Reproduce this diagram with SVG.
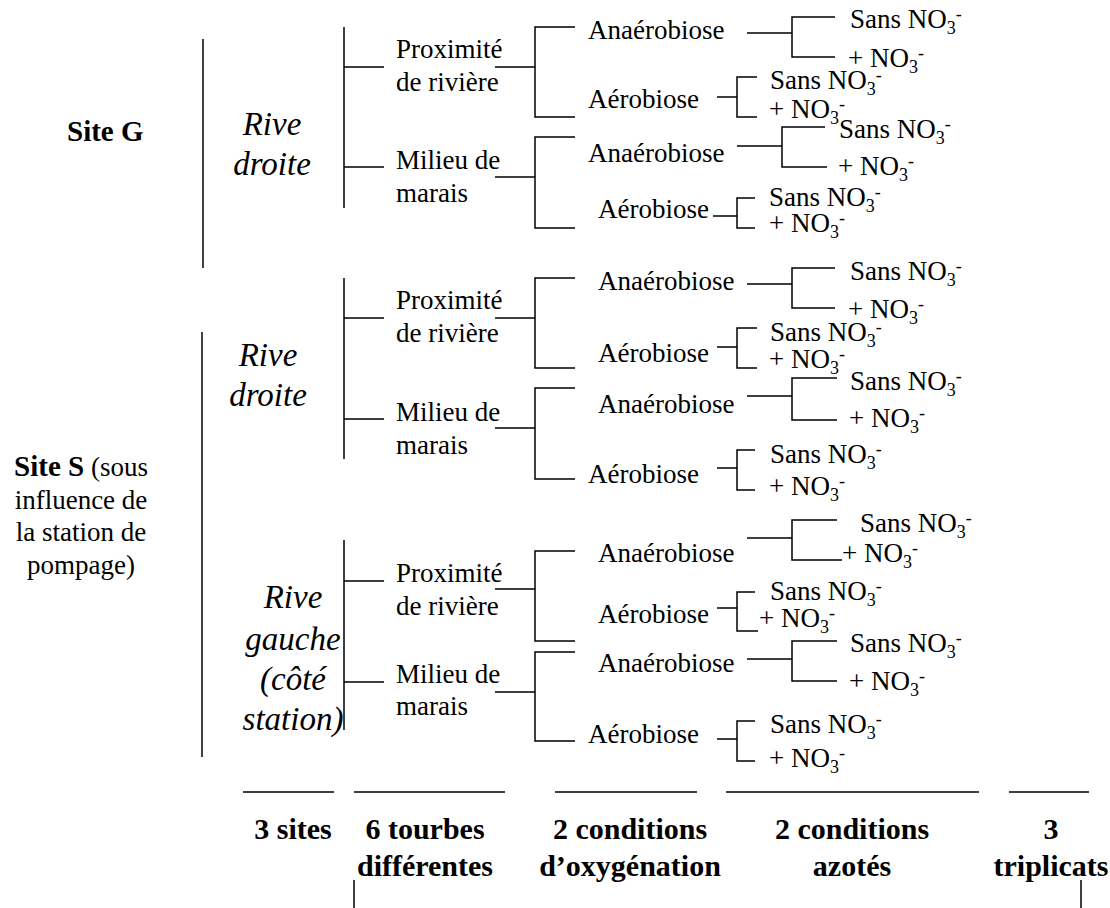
<svg xmlns="http://www.w3.org/2000/svg" width="1110" height="908" viewBox="0 0 1110 908" font-family="'Liberation Serif', Tinos, 'Times New Roman', Times, 'Nimbus Roman', 'DejaVu Serif', serif">
<style>
text{font-family:'Liberation Serif',Tinos,'Times New Roman',Times,'Nimbus Roman','DejaVu Serif',serif;font-size:27px;fill:#000}
.b{font-weight:bold;font-size:29px}
.bb{font-weight:bold;font-size:30px;text-anchor:middle}
.i{font-style:italic;font-size:33px;text-anchor:middle}
.m{text-anchor:middle}
.s{font-size:18px}
#connectors path{fill:none;stroke:#000;stroke-width:1.5}
</style>
<rect width="1110" height="908" fill="#fff"/>
<g id="connectors">
<path d="M203 39V268"/>
<path d="M202 332V757"/>
<path d="M344 27V208M344 67H384M344 167H384"/>
<path d="M344 278V459M344 318H384M344 419H384"/>
<path d="M344 540V730M344 581H384M344 682H384"/>
<path d="M495 67H535M575 27H535V117H575"/>
<path d="M495 177H535M575 137H535V228H575"/>
<path d="M495 318H535M575 278H535V368H575"/>
<path d="M495 428H535M575 388H535V479H575"/>
<path d="M495 589H535M575 551H535V641H575"/>
<path d="M495 692H535M575 652H535V741H575"/>
<path d="M747 33H792M835 17H792V57H835"/>
<path d="M717 97H737M757 77H737V117H757"/>
<path d="M737 146H782M825 127H782V167H827"/>
<path d="M713 216H737M755 198H737V228H755"/>
<path d="M747 284H792M835 268H792V308H835"/>
<path d="M717 347H737M757 328H737V368H757"/>
<path d="M747 396H792M837 378H792V420H837"/>
<path d="M717 468H737M755 450H737V490H755"/>
<path d="M747 538H792M837 520H792V560H842"/>
<path d="M717 608H737M755 592H737V631H758"/>
<path d="M747 659H792M837 641H792V681H837"/>
<path d="M717 739H737M755 721H737V761H755"/>
<path d="M243 792H334M354 792H505M555 792H697M726 792H979M1009 792H1089"/>
<path d="M354 880V908M1081 880V908"/>
</g>

<g id="site-g"><text class="b" x="67" y="141">Site G</text></g>
<g id="site-s"><text class="m" x="81" y="476"><tspan font-weight="bold" font-size="29">Site S</tspan> (sous</text>
<text class="m" x="81" y="509">influence de</text>
<text class="m" x="81" y="541">la station de</text>
<text class="m" x="81" y="574">pompage)</text></g>

<g id="g-rive-droite"><text class="i" x="272" y="135">Rive</text><text class="i" x="272" y="175">droite</text></g>
<g id="s-rive-droite"><text class="i" x="268" y="366">Rive</text><text class="i" x="268" y="406">droite</text></g>
<g id="s-rive-gauche"><text class="i" x="293" y="608">Rive</text><text class="i" x="293" y="650">gauche</text><text class="i" x="293" y="690">(côté</text><text class="i" x="293" y="730">station)</text></g>

<g id="g-prox"><text x="396" y="58">Proximité</text><text x="396" y="91">de rivière</text></g>
<g id="g-milieu"><text x="396" y="169">Milieu de</text><text x="396" y="202">marais</text></g>
<g id="sd-prox"><text x="396" y="309">Proximité</text><text x="396" y="342">de rivière</text></g>
<g id="sd-milieu"><text x="396" y="421">Milieu de</text><text x="396" y="454">marais</text></g>
<g id="sg-prox"><text x="396" y="582">Proximité</text><text x="396" y="615">de rivière</text></g>
<g id="sg-milieu"><text x="396" y="683">Milieu de</text><text x="396" y="715">marais</text></g>

<g id="g-ana1"><text x="588" y="39">Anaérobiose</text></g>
<g id="g-aer1"><text x="588" y="108">Aérobiose</text></g>
<g id="g-ana2"><text x="588" y="162">Anaérobiose</text></g>
<g id="g-aer2"><text x="598" y="218">Aérobiose</text></g>
<g id="sd-ana1"><text x="598" y="290">Anaérobiose</text></g>
<g id="sd-aer1"><text x="598" y="362">Aérobiose</text></g>
<g id="sd-ana2"><text x="598" y="413">Anaérobiose</text></g>
<g id="sd-aer2"><text x="588" y="483">Aérobiose</text></g>
<g id="sg-ana1"><text x="598" y="562">Anaérobiose</text></g>
<g id="sg-aer1"><text x="598" y="623">Aérobiose</text></g>
<g id="sg-ana2"><text x="598" y="672">Anaérobiose</text></g>
<g id="sg-aer2"><text x="588" y="743">Aérobiose</text></g>

<g id="g-ana1-n">
<text x="850" y="28">Sans NO<tspan class="s" dy="6">3</tspan><tspan class="s" dy="-14">-</tspan></text>
<text x="848" y="67">+ NO<tspan class="s" dy="6">3</tspan><tspan class="s" dy="-14">-</tspan></text></g>
<g id="g-aer1-n">
<text x="770" y="89">Sans NO<tspan class="s" dy="6">3</tspan><tspan class="s" dy="-14">-</tspan></text>
<text x="769" y="118">+ NO<tspan class="s" dy="6">3</tspan><tspan class="s" dy="-14">-</tspan></text></g>
<g id="g-ana2-n">
<text x="839" y="138">Sans NO<tspan class="s" dy="6">3</tspan><tspan class="s" dy="-14">-</tspan></text>
<text x="838" y="175">+ NO<tspan class="s" dy="6">3</tspan><tspan class="s" dy="-14">-</tspan></text></g>
<g id="g-aer2-n">
<text x="769" y="206">Sans NO<tspan class="s" dy="6">3</tspan><tspan class="s" dy="-14">-</tspan></text>
<text x="769" y="232">+ NO<tspan class="s" dy="6">3</tspan><tspan class="s" dy="-14">-</tspan></text></g>

<g id="sd-ana1-n">
<text x="850" y="280">Sans NO<tspan class="s" dy="6">3</tspan><tspan class="s" dy="-14">-</tspan></text>
<text x="848" y="318">+ NO<tspan class="s" dy="6">3</tspan><tspan class="s" dy="-14">-</tspan></text></g>
<g id="sd-aer1-n">
<text x="770" y="341">Sans NO<tspan class="s" dy="6">3</tspan><tspan class="s" dy="-14">-</tspan></text>
<text x="769" y="368">+ NO<tspan class="s" dy="6">3</tspan><tspan class="s" dy="-14">-</tspan></text></g>
<g id="sd-ana2-n">
<text x="850" y="390">Sans NO<tspan class="s" dy="6">3</tspan><tspan class="s" dy="-14">-</tspan></text>
<text x="849" y="427">+ NO<tspan class="s" dy="6">3</tspan><tspan class="s" dy="-14">-</tspan></text></g>
<g id="sd-aer2-n">
<text x="770" y="463">Sans NO<tspan class="s" dy="6">3</tspan><tspan class="s" dy="-14">-</tspan></text>
<text x="769" y="495">+ NO<tspan class="s" dy="6">3</tspan><tspan class="s" dy="-14">-</tspan></text></g>

<g id="sg-ana1-n">
<text x="860" y="532">Sans NO<tspan class="s" dy="6">3</tspan><tspan class="s" dy="-14">-</tspan></text>
<text x="842" y="562">+ NO<tspan class="s" dy="6">3</tspan><tspan class="s" dy="-14">-</tspan></text></g>
<g id="sg-aer1-n">
<text x="770" y="600">Sans NO<tspan class="s" dy="6">3</tspan><tspan class="s" dy="-14">-</tspan></text>
<text x="759" y="627">+ NO<tspan class="s" dy="6">3</tspan><tspan class="s" dy="-14">-</tspan></text></g>
<g id="sg-ana2-n">
<text x="850" y="652">Sans NO<tspan class="s" dy="6">3</tspan><tspan class="s" dy="-14">-</tspan></text>
<text x="849" y="690">+ NO<tspan class="s" dy="6">3</tspan><tspan class="s" dy="-14">-</tspan></text></g>
<g id="sg-aer2-n">
<text x="770" y="733">Sans NO<tspan class="s" dy="6">3</tspan><tspan class="s" dy="-14">-</tspan></text>
<text x="769" y="767">+ NO<tspan class="s" dy="6">3</tspan><tspan class="s" dy="-14">-</tspan></text></g>

<g id="legend-sites"><text class="bb" x="293" y="839">3 sites</text></g>
<g id="legend-tourbes"><text class="bb" x="425" y="839">6 tourbes</text><text class="bb" x="425" y="876">différentes</text></g>
<g id="legend-oxy"><text class="bb" x="630" y="839">2 conditions</text><text class="bb" x="630" y="876">d’oxygénation</text></g>
<g id="legend-azote"><text class="bb" x="852" y="839">2 conditions</text><text class="bb" x="852" y="876">azotés</text></g>
<g id="legend-triplicats"><text class="bb" x="1051" y="839">3</text><text class="bb" x="1051" y="876">triplicats</text></g>
</svg>
